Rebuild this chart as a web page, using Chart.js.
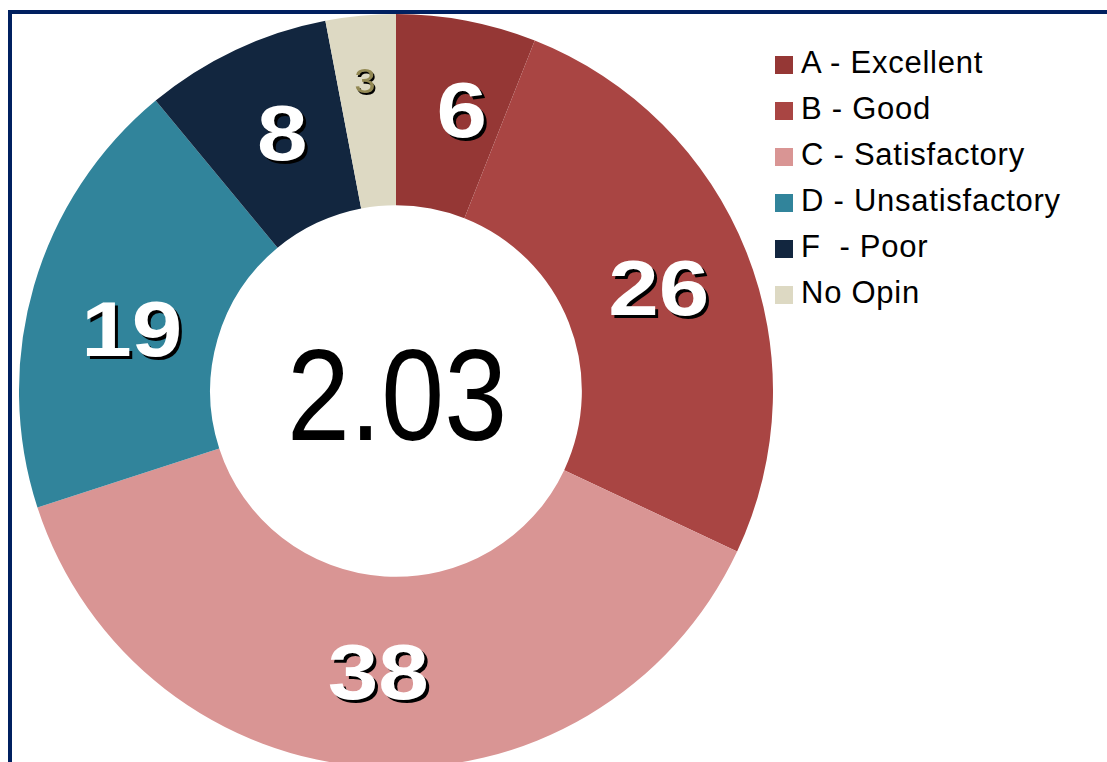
<!DOCTYPE html>
<html>
<head>
<meta charset="utf-8">
<script src="https://cdn.jsdelivr.net/npm/chart.js@4/dist/chart.umd.min.js"></script>
<style>
  html, body { margin: 0; padding: 0; width: 1107px; height: 762px; overflow: hidden; background: #fff; }
  #frame { position: absolute; left: 8px; top: 10px; width: 1200px; height: 900px; border-top: 4px solid #002060; border-left: 4px solid #002060; box-sizing: border-box; }
  #wrap { position: absolute; left: 19px; top: 14px; width: 754px; height: 754px; }
  #legend { position: absolute; left: 775px; top: 40px; font-family: "Liberation Sans", Arial, sans-serif; font-size: 31px; letter-spacing: 0.75px; color: #000; }
  .item { height: 46px; display: flex; align-items: center; white-space: pre; }
  .sw { width: 18px; height: 18px; margin-right: 8px; margin-top: 3px; }
</style>
</head>
<body>
<div id="frame"></div>
<div id="wrap"><canvas id="c"></canvas></div>
<div id="legend"></div>
<script>
const categories = ["A - Excellent", "B - Good", "C - Satisfactory", "D - Unsatisfactory", "F  - Poor", "No Opin"];
const values = [6, 26, 38, 19, 8, 3];
const colors = ["#953735", "#A94543", "#D99594", "#31849B", "#12263F", "#DDD9C3"];
const centerText = "2.03";

const leg = document.getElementById('legend');
categories.forEach((c, i) => {
  const d = document.createElement('div');
  d.className = 'item';
  const s = document.createElement('div');
  s.className = 'sw';
  s.style.background = colors[i];
  const t = document.createElement('span');
  t.textContent = c;
  d.appendChild(s); d.appendChild(t);
  leg.appendChild(d);
});

const labelPlugin = {
  id: 'sliceLabels',
  afterDatasetsDraw(chart, args, opts) {
    const ctx = chart.ctx;
    const meta = chart.getDatasetMeta(0);
    const nudges = opts.nudges || [];
    meta.data.forEach((arc, i) => {
      const v = values[i];
      const small = v < 5;
      const mid = (arc.startAngle + arc.endAngle) / 2;
      const r = (arc.innerRadius + arc.outerRadius) / 2 + (small ? 28 : 0);
      const nd = nudges[i] || [0, 0];
      const x = arc.x + Math.cos(mid) * r + nd[0];
      const y = arc.y + Math.sin(mid) * r + nd[1];
      ctx.save();
      ctx.textAlign = 'center';
      ctx.textBaseline = 'alphabetic';
      if (small) {
        ctx.translate(x, y + 12.5);
        ctx.scale(1.1, 1);
        ctx.font = '35px "Liberation Sans", Arial, sans-serif';
        ctx.fillStyle = '#000';
        ctx.fillText(String(v), 1.5, 1.5);
        ctx.fillStyle = '#938953';
        ctx.fillText(String(v), 0, 0);
      } else {
        ctx.translate(x, y + 27.5);
        ctx.scale(1.18, 1);
        ctx.font = 'bold 77px "Liberation Sans", Arial, sans-serif';
        ctx.fillStyle = '#000';
        ctx.fillText(String(v), 2.6, 3);
        ctx.fillStyle = '#fff';
        ctx.fillText(String(v), 0, 0);
      }
      ctx.restore();
    });
    const a0 = meta.data[0];
    ctx.save();
    ctx.translate(a0.x + 1, a0.y + 2.5 + 46.5);
    ctx.scale(0.87, 1);
    ctx.textAlign = 'center';
    ctx.textBaseline = 'alphabetic';
    ctx.font = '130px "Liberation Sans", Arial, sans-serif';
    ctx.fillStyle = '#000';
    ctx.fillText(centerText, 0, 0);
    ctx.restore();
  }
};

new Chart(document.getElementById('c'), {
  type: 'doughnut',
  data: {
    labels: categories,
    datasets: [{
      data: values,
      backgroundColor: colors,
      borderWidth: 0
    }]
  },
  options: {
    responsive: true,
    maintainAspectRatio: false,
    animation: false,
    cutout: '49.3%',
    layout: { padding: 0 },
    plugins: {
      legend: { display: false },
      tooltip: { enabled: false },
      sliceLabels: { nudges: [[13, -5], [1, 0], [0, 0], [6, 16], [6, -3.5], [-2, -2]] }
    }
  },
  plugins: [labelPlugin]
});
</script>
</body>
</html>
